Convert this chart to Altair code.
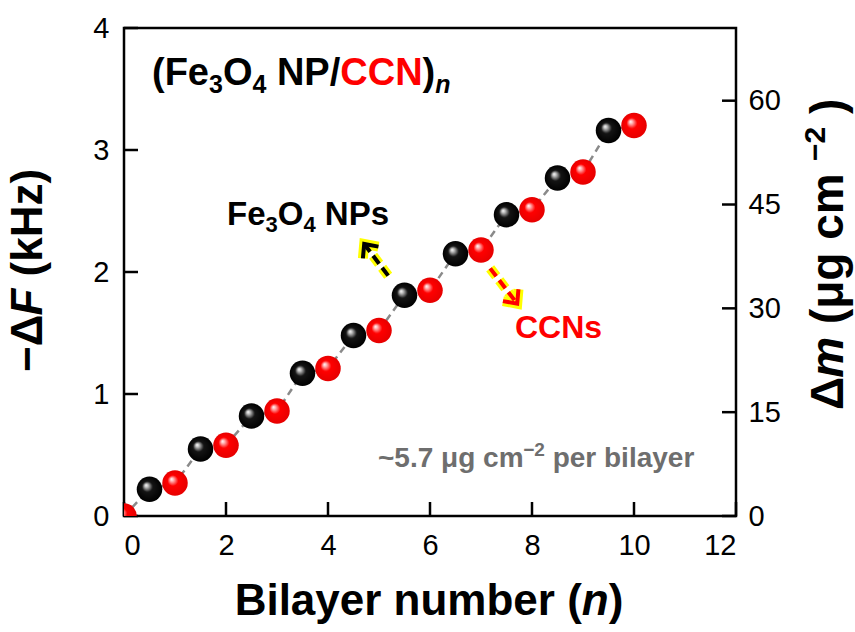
import math
import altair as alt
import pandas as pd

# Fe3O4 NP layers sit at half-integer bilayer numbers, CCN layers at integers
fe_n = [0.5, 1.5, 2.5, 3.5, 4.5, 5.5, 6.5, 7.5, 8.5, 9.5]
fe_df = [0.22, 0.55, 0.82, 1.17, 1.48, 1.81, 2.15, 2.47, 2.77, 3.16]
ccn_n = [0, 1, 2, 3, 4, 5, 6, 7, 8, 9, 10]
ccn_df = [0.00, 0.27, 0.58, 0.86, 1.21, 1.52, 1.85, 2.18, 2.51, 2.82, 3.20]

x_ticks = [0, 2, 4, 6, 8, 10, 12]
y_ticks = [0, 1, 2, 3, 4]
mass_ticks = [0, 15, 30, 45, 60]

# arrow annotations (bilayer number, kHz): start -> tip
arrow_x0 = [5.18, 7.18]
arrow_y0 = [1.97, 2.03]
arrow_x1 = [4.71, 7.71]
arrow_y1 = [2.23, 1.74]
arrow_col = ["black", "#ff0000"]

W, H = 612, 488
X_DOMAIN = [0, 12]
Y_DOMAIN = [0, 4]
MASS_DOMAIN = [0, 70.5]          # mass scale matching 0-4 kHz
PX_X = W / (X_DOMAIN[1] - X_DOMAIN[0])
PX_Y = H / (Y_DOMAIN[1] - Y_DOMAIN[0])

FONT = "Liberation Sans"
RED = "#ff0000"
GRAY = "#6e6e6e"
TICK = 14

one = pd.DataFrame({"k": [0]})

axis_common = dict(title=None, labelFont=FONT, labelFontSize=29, labelColor="black",
                   ticks=False, tickSize=0, domain=False, grid=False)
x_axis = alt.Axis(values=x_ticks, labelPadding=15, **axis_common)
y_axis = alt.Axis(values=y_ticks, labelPadding=15, **axis_common)
m_axis = alt.Axis(values=mass_ticks, orient="right", labelPadding=12, **axis_common)

xs = alt.Scale(domain=X_DOMAIN, nice=False, zero=False)
ys = alt.Scale(domain=Y_DOMAIN, nice=False)
ms = alt.Scale(domain=MASS_DOMAIN, nice=False)


def X(field):
    return alt.X(field, type="quantitative", scale=xs, axis=x_axis)


def Y(field):
    return alt.Y(field, type="quantitative", scale=ys, axis=y_axis)


def ball(base, mid, edge):
    return {
        "gradient": "radial",
        "x1": 0.36, "y1": 0.34, "r1": 0.0,
        "x2": 0.5, "y2": 0.5, "r2": 0.5,
        "stops": [
            {"offset": 0.0, "color": "#ffffff"},
            {"offset": 0.13, "color": mid},
            {"offset": 0.42, "color": base},
            {"offset": 1.0, "color": edge},
        ],
    }


BLACK_BALL = ball("#141414", "#c4c4c4", "#000000")
RED_BALL = ball("#ff0000", "#ffb8b8", "#e60000")

# dashed guide through every deposited layer
series = pd.DataFrame({"n": fe_n + ccn_n, "df": fe_df + ccn_df}).sort_values("n")
line = alt.Chart(series).mark_line(
    color="#8a8a8a", strokeWidth=2.5, strokeDash=[7, 5], clip=True
).encode(x=X("n"), y=Y("df"))

fe_pts = alt.Chart(pd.DataFrame({"n": fe_n, "df": fe_df})).mark_circle(
    size=650, opacity=1, color=BLACK_BALL, clip=True
).encode(x=X("n"), y=Y("df"))

ccn_pts = alt.Chart(pd.DataFrame({"n": ccn_n, "df": ccn_df})).mark_circle(
    size=650, opacity=1, color=RED_BALL, clip=True
).encode(x=X("n"), y=Y("df"))

# inward ticks
y_tick_marks = alt.Chart(pd.DataFrame({"v": y_ticks})).mark_rule(
    color="black", strokeWidth=2.5
).encode(y=Y("v"), x=alt.value(0), x2=alt.value(TICK))

x_tick_marks = alt.Chart(pd.DataFrame({"v": x_ticks})).mark_rule(
    color="black", strokeWidth=2.5
).encode(x=X("v"), y=alt.value(H), y2=alt.value(H - TICK))

m_tick_marks = alt.Chart(pd.DataFrame({"m": mass_ticks})).mark_rule(
    color="black", strokeWidth=2.5
).encode(
    y=alt.Y("m:Q", scale=ms, axis=m_axis),
    x=alt.value(W), x2=alt.value(W - TICK),
)

# highlighted dashed arrows
arrows = pd.DataFrame({"x0": arrow_x0, "y0": arrow_y0, "x1": arrow_x1,
                       "y1": arrow_y1, "col": arrow_col})
arrows["ang"] = [
    math.degrees(math.atan2((b - a) * PX_X, (d - c) * PX_Y)) % 360
    for a, b, c, d in zip(arrows.x0, arrows.x1, arrows.y0, arrows.y1)
]
CHEVRON = "M-1,1.1L0,0L1,1.1"

arrow_enc = dict(x=X("x0"), y=Y("y0"), x2="x1:Q", y2="y1:Q")
glow_line = alt.Chart(arrows).mark_rule(
    color="#ffff00", strokeWidth=10, strokeDash=[10, 5]
).encode(**arrow_enc)
arrow_line = alt.Chart(arrows).mark_rule(
    strokeWidth=4, strokeDash=[10, 5]
).encode(stroke=alt.Stroke("col:N", scale=None), **arrow_enc)

head_enc = dict(x=X("x1"), y=Y("y1"), angle=alt.Angle("ang:Q", scale=None))
glow_head = alt.Chart(arrows).mark_point(
    shape=CHEVRON, filled=False, size=380, stroke="#ffff00", strokeWidth=10,
    strokeJoin="miter", opacity=1,
).encode(**head_enc)
arrow_head = alt.Chart(arrows).mark_point(
    shape=CHEVRON, filled=False, size=380, strokeWidth=4,
    strokeJoin="miter", opacity=1,
).encode(stroke=alt.Stroke("col:N", scale=None), **head_enc)

# approximate advance widths (em) of the bold sans face, for composing rich text
BOLD_W = {
    " ": .278, "(": .333, ")": .333, "/": .278, "~": .584, ".": .278,
    "\u2212": .584,
    "B": .722, "C": .722, "F": .611, "H": .722, "N": .722, "O": .778, "P": .667,
    "a": .556, "b": .611, "c": .556, "e": .556, "g": .611, "i": .278, "k": .556,
    "l": .278, "m": .889, "n": .611, "p": .611, "r": .389, "s": .556, "u": .611,
    "y": .556, "z": .500, "\u0394": .700, "\u03bc": .600,
}
for d in "0123456789":
    BOLD_W[d] = .556


def text_width(s, size):
    return sum(BOLD_W.get(ch, .6) for ch in s) * size


def rich(segments, x0, y0, angle=0, center=False):
    """segments: (text, size, color, italic, baseline shift)"""
    total = sum(text_width(t, s) for t, s, *_ in segments)
    off = -total / 2 if center else 0.0
    layers = []
    for text, size, color, italic, shift in segments:
        # edge spaces are dropped by the renderer, so they become offsets
        lead = len(text) - len(text.lstrip(" "))
        kw = dict(text=text.strip(" "), font=FONT, fontSize=size, fontWeight="bold",
                  fontStyle="italic" if italic else "normal", color=color,
                  align="left", baseline="alphabetic",
                  dx=off + lead * BOLD_W[" "] * size, dy=shift)
        if angle:
            kw["angle"] = angle
        layers.append(alt.Chart(one).mark_text(**kw).encode(
            x=alt.value(x0), y=alt.value(y0)))
        off += text_width(text, size)
    return layers


texts = []
texts += rich([("(Fe", 38, "black", False, 0), ("3", 25, "black", False, 8),
               ("O", 38, "black", False, 0), ("4", 25, "black", False, 8),
               (" NP/", 38, "black", False, 0), ("CCN", 38, RED, False, 0),
               (")", 38, "black", False, 0), ("n", 25, "black", True, 8)], 28, 57)
texts += rich([("Fe", 33, "black", False, 0), ("3", 22, "black", False, 7),
               ("O", 33, "black", False, 0), ("4", 22, "black", False, 7),
               (" NPs", 33, "black", False, 0)], 103, 197)
texts += rich([("CCNs", 32, RED, False, 0)], 391, 310)
texts += rich([("~5.7 \u03bcg cm", 28, GRAY, False, 0), ("\u22122", 19, GRAY, False, -11),
               (" per bilayer", 28, GRAY, False, 0)], 254, 439)
# axis titles
texts += rich([("Bilayer number (", 44, "black", False, 0), ("n", 44, "black", True, 0),
               (")", 44, "black", False, 0)], 305, 587, center=True)
texts += rich([("\u2212\u0394", 44, "black", False, 0), ("F", 44, "black", True, 0),
               (" (kHz)", 44, "black", False, 0)], -82, 344, angle=270)
texts += rich([("\u0394", 46, "black", False, 0), ("m", 46, "black", True, 0),
               (" (\u03bcg cm ", 46, "black", False, 0), ("\u22122", 30, "black", False, -18),
               (" )", 46, "black", False, 0)], 719, 382, angle=270)

left = alt.layer(line, y_tick_marks, x_tick_marks, fe_pts, ccn_pts,
                 glow_line, glow_head, arrow_line, arrow_head, *texts)

chart = alt.layer(left, m_tick_marks).resolve_scale(y="independent").properties(
    width=W, height=H,
    padding={"left": 124, "top": 28, "right": 119, "bottom": 116},
    autosize=alt.AutoSizeParams(type="none"),
    background="white",
).configure_view(stroke="black", strokeWidth=2.5)

chart.save("out.html", embed_options={"renderer": "svg", "actions": False})
